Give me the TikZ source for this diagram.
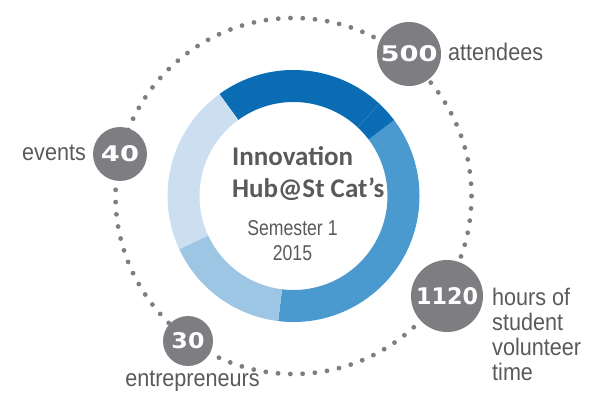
\documentclass[tikz,border=0pt]{standalone}
\usepackage{fontspec}
\usepackage{graphicx}
\setmainfont{Liberation Sans}
\newfontfamily\condfont[FakeStretch=0.9]{Liberation Sans}
\newfontfamily\semfont[FakeStretch=0.82]{Liberation Sans}
\newfontfamily\titlefont{Carlito}
\newfontfamily\numfont{DejaVu Sans}
\definecolor{dkblue}{HTML}{0A6CB3}
\definecolor{mdblue}{HTML}{4A9AD0}
\definecolor{ltblue}{HTML}{9DC6E4}
\definecolor{vlblue}{HTML}{CBDFF0}
\definecolor{sepblue}{HTML}{2F80C0}
\definecolor{dotgray}{HTML}{7E7E82}
\definecolor{txtgray}{HTML}{5A5A5C}
\newcommand{\numtxt}[3]{\resizebox{#1}{#2}{\numfont\bfseries #3}}
\begin{document}
\begin{tikzpicture}[x=1pt,y=1pt,
  numcirc/.style={circle, fill=dotgray, inner sep=0pt, text=white},
  lbl/.style={inner sep=0pt, anchor=base west, text=txtgray, font=\condfont\fontsize{24}{25}\selectfont},
  ttl/.style={inner sep=0pt, anchor=base west, text=txtgray, font=\titlefont\bfseries\fontsize{27}{30}\selectfont},
  sem/.style={inner sep=0pt, anchor=base, text=txtgray, font=\semfont\fontsize{21.5}{25}\selectfont}]
\useasboundingbox (0,0) rectangle (589,392);
\coordinate (C) at (293.5,196);
% dotted ring
\draw[dotgray, line width=4.8pt, line cap=round, dash pattern=on 0pt off 12.29pt] (C) circle[radius=178];
% donut segments
\def\Ro{126}\def\Ri{94}
\newcommand{\seg}[3]{\fill[#1] ([shift={(#2:\Ro)}]C) arc[start angle=#2, end angle=#3, radius=\Ro] -- ([shift={(#3:\Ri)}]C) arc[start angle=#3, end angle=#2, radius=\Ri] -- cycle;}
\seg{mdblue}{-97}{37}
\seg{dkblue}{37}{126}
\seg{vlblue}{126}{205}
\seg{ltblue}{205}{263}
\draw[sepblue, line width=0.7pt] ([shift={(47:\Ri)}]C) -- ([shift={(47:\Ro)}]C);
% number circles
\node[numcirc, minimum size=64pt] (n500) at (409,338) {\numtxt{57pt}{16pt}{500}};
\node[numcirc, minimum size=54pt] (n40) at (120,238) {\numtxt{38pt}{16pt}{40}};
\node[numcirc, minimum size=72pt] (n1120) at (447,96) {\numtxt{62pt}{17pt}{1120}};
\node[numcirc, minimum size=50pt] (n30) at (188,51) {\numtxt{33pt}{16pt}{30}};
% labels
\node[lbl] (lattend) at (448,331) {attendees};
\node[lbl] (levents) at (22,232) {events};
\node[lbl] (lh1) at (492,87) {hours of};
\node[lbl] (lh2) at (492,62) {student};
\node[lbl] (lh3) at (492,37) {volunteer};
\node[lbl] (lh4) at (492,12) {time};
\node[lbl, anchor=base] (lent) at (192.5,6) {entrepreneurs};
% centre text
\node[ttl] (t1) at (232,227) {Innovation};
\node[ttl] (t2) at (232,195) {Hub@St Cat’s};
\node[sem] (s1) at (292.5,157) {Semester 1};
\node[sem] (s2) at (292.5,132) {2015};
\end{tikzpicture}
\end{document}
